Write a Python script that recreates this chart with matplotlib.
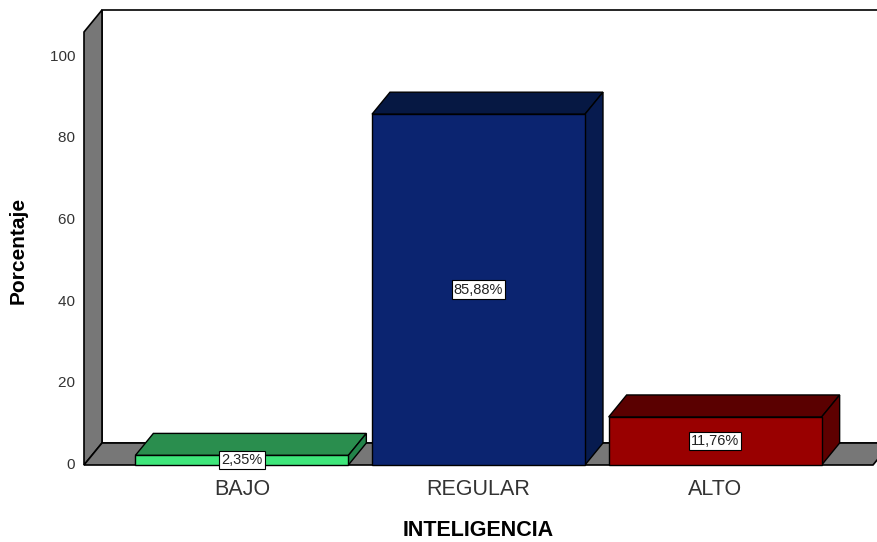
import matplotlib.pyplot as plt
from matplotlib.patches import Polygon

categorias = ['BAJO', 'REGULAR', 'ALTO']
porcentajes = [2.35, 85.88, 11.76]
etiquetas = ['2,35%', '85,88%', '11,76%']
yticks = [0, 20, 40, 60, 80, 100]

col_frente = ['#3ee67a', '#0b2470', '#990000']
col_arriba = ['#2a8e4e', '#061843', '#5a0000']
col_lado = ['#23834a', '#071b4f', '#5e0000']

plt.rcParams['font.family'] = ['Liberation Sans', 'DejaVu Sans']

fig = plt.figure(figsize=(8.78, 5.42), dpi=100)
W, H = 878, 542
x0, y0 = 84, 465
xl, xr = -0.667, 2.667
ytop = 106
ax = fig.add_axes([x0 / W, (H - y0) / H, (873 - x0) / W, (y0 - 32) / H])
ax.set_xlim(xl, xr)
ax.set_ylim(0, ytop)
ax.axis('off')

# profundidad 3D (en unidades de datos)
px_x = (873 - x0) / (xr - xl)
px_y = (y0 - 32) / ytop
dx = 18 / px_x
dy = 22 / px_y

gris = '#777777'
# pared del fondo
ax.add_patch(Polygon([(xl + dx, dy), (xl + dx, ytop + dy), (xr + dx + 1, ytop + dy), (xr + dx + 1, dy)],
                     closed=True, facecolor='white', edgecolor='black', lw=1.2, clip_on=False, zorder=1))
# pared izquierda
ax.add_patch(Polygon([(xl, 0), (xl, ytop), (xl + dx, ytop + dy), (xl + dx, dy)],
                     closed=True, facecolor=gris, edgecolor='black', lw=1.2, clip_on=False, zorder=2))
# piso
ax.add_patch(Polygon([(xl, 0), (xl + dx, dy), (xr + dx, dy), (xr, 0)],
                     closed=True, facecolor=gris, edgecolor='black', lw=1.2, clip_on=False, zorder=2))

w = 0.9
xs = list(range(len(categorias)))
for i, v in enumerate(porcentajes):
    a, b = xs[i] - w / 2, xs[i] + w / 2
    ax.add_patch(Polygon([(a, v), (a + dx, v + dy), (b + dx, v + dy), (b, v)], closed=True,
                         facecolor=col_arriba[i], edgecolor='black', lw=1, clip_on=False, zorder=3))
    ax.add_patch(Polygon([(b, 0), (b, v), (b + dx, v + dy), (b + dx, dy)], closed=True,
                         facecolor=col_lado[i], edgecolor='black', lw=1, clip_on=False, zorder=3))
ax.bar(xs, porcentajes, width=w, color=col_frente, edgecolor='black', lw=1, zorder=4, clip_on=False)

for i, v in enumerate(porcentajes):
    ax.text(xs[i], v / 2, etiquetas[i], ha='center', va='center', fontsize=10.5, zorder=5, color='#222222',
            bbox=dict(boxstyle='square,pad=0.15', facecolor='white', edgecolor='black', lw=0.8))

for t in yticks:
    ax.text(xl, t, str(t) + '  ', ha='right', va='center', fontsize=11, color='#333333',
            transform=ax.transData)
for i, c in enumerate(categorias):
    ax.text(xs[i], -6.0, c, ha='center', va='center', fontsize=15.5, color='#333333')

fig.text(478 / W, 1 - 530 / H, 'INTELIGENCIA', ha='center', va='center', fontsize=15.5, fontweight='bold')
fig.text(18 / W, 1 - 250 / H, 'Porcentaje', ha='center', va='center', rotation=90, fontsize=15,
         fontweight='bold')

fig.savefig('out.png', dpi=100)
